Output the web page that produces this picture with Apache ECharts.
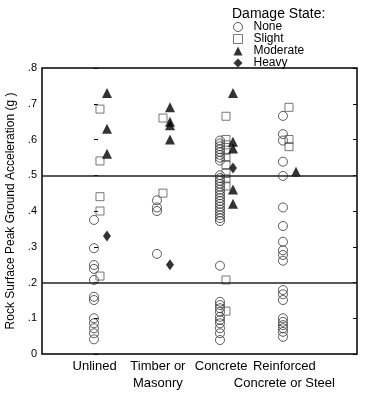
<!DOCTYPE html>
<html>
<head>
<meta charset="utf-8">
<script src="https://cdn.jsdelivr.net/npm/echarts@6/dist/echarts.min.js"></script>
<style>html,body{margin:0;padding:0;background:#fff}#c{width:365px;height:396px}</style>
</head>
<body>
<div id="c"></div>
<script>
const categories = ['Unlined', 'Timber or\nMasonry', 'Concrete', 'Reinforced\nConcrete or Steel'];
const states = ['None', 'Slight', 'Moderate', 'Heavy'];
const yTicks = [0, 0.1, 0.2, 0.3, 0.4, 0.5, 0.6, 0.7, 0.8];
const thresholds = [0.5, 0.2];

// values per category: [Unlined, Timber or Masonry, Concrete, Reinforced]
const noneValues = [
  [0.375, 0.296, 0.249, 0.238, 0.207, 0.160, 0.151, 0.100, 0.086, 0.072, 0.058, 0.041],
  [0.43, 0.41, 0.40, 0.28],
  [0.597, 0.589, 0.581, 0.573, 0.565, 0.557, 0.549, 0.541,
   0.500, 0.492, 0.484, 0.476, 0.468, 0.460, 0.452, 0.444, 0.436, 0.428, 0.420, 0.412, 0.404, 0.396, 0.388, 0.380, 0.372,
   0.247, 0.146, 0.137, 0.128, 0.118, 0.104, 0.095, 0.086, 0.072, 0.058, 0.039],
  [0.666, 0.615, 0.597, 0.538, 0.498, 0.41, 0.358, 0.314, 0.29, 0.277, 0.261, 0.179, 0.167, 0.151, 0.10, 0.09, 0.081, 0.072, 0.062, 0.048]
];
const slightValues = [
  [0.685, 0.54, 0.44, 0.40, 0.218],
  [0.66, 0.45],
  [0.665, 0.60, 0.585, 0.57, 0.55, 0.53, 0.505, 0.49, 0.47, 0.207, 0.12],
  [0.69, 0.60, 0.58]
];
const moderateValues = [
  [0.73, 0.63, 0.56],
  [0.69, 0.65, 0.64, 0.60],
  [0.73, 0.594, 0.575, 0.46, 0.42],
  [0.51]
];
const heavyValues = [
  [0.33],
  [0.25],
  [0.52],
  []
];

function toPoints(groups) {
  const out = [];
  groups.forEach((vals, ci) => vals.forEach(v => out.push([ci, v])));
  return out;
}

const chart = echarts.init(document.getElementById('c'), null, {renderer: 'canvas'});
const font = 'Liberation Sans, Arial, Helvetica, sans-serif';
chart.setOption({
  animation: false,
  textStyle: {fontFamily: font},
  title: {
    text: 'Damage State:', left: 227, top: 2,
    textStyle: {fontSize: 14, fontWeight: 'normal', color: '#000', fontFamily: font}
  },
  legend: {
    orient: 'vertical', left: 228, top: 16,
    itemWidth: 9, itemHeight: 9, itemGap: 0,
    textStyle: {fontSize: 12, lineHeight: 12, color: '#000', fontFamily: font, padding: [0, 0, 0, 6]},
    data: [
      {name: 'None', itemStyle: {borderWidth: 1}},
      {name: 'Slight', itemStyle: {borderWidth: 1}},
      {name: 'Moderate'},
      {name: 'Heavy'}
    ]
  },
  grid: [
    {left: 42, right: 8, top: 68, bottom: 42, show: true, borderColor: '#000', borderWidth: 1.5, backgroundColor: 'transparent', outerBoundsMode: 'none', containLabel: false},
    {left: 63, right: 49, top: 68, bottom: 42, show: false, outerBoundsMode: 'none', containLabel: false}
  ],
  xAxis: [{
    type: 'value', min: -0.825, max: 4.175, gridIndex: 0,
    splitLine: {show: false}, axisLine: {show: false}, axisTick: {show: false},
    axisLabel: {show: false}
  }, {
    type: 'category', data: categories, gridIndex: 1, boundaryGap: true,
    splitLine: {show: false}, axisLine: {show: false}, axisTick: {show: false},
    axisLabel: {interval: 0, color: '#000', fontSize: 13, fontFamily: font, margin: 4, lineHeight: 17}
  }],
  yAxis: [{
    type: 'value', min: 0, max: 0.8, interval: 0.1, position: 'left', gridIndex: 0,
    name: 'Rock Surface Peak Ground Acceleration (g )', nameLocation: 'middle', nameGap: 22,
    nameTextStyle: {fontSize: 12, color: '#000', fontFamily: font},
    splitLine: {show: false}, axisLine: {show: false},
    axisTick: {show: true, inside: true, length: 4, lineStyle: {color: '#000'}},
    axisLabel: {
      color: '#000', fontSize: 11, fontFamily: font, margin: 5,
      formatter: v => { const t = yTicks.find(x => Math.abs(x - v) < 1e-6); return t === 0 ? '0' : (t.toFixed(1)).replace(/^0/, ''); }
    }
  }, {
    type: 'value', min: 0, max: 0.8, interval: 0.1, position: 'right', gridIndex: 0,
    splitLine: {show: false}, axisLine: {show: false},
    axisTick: {show: true, inside: true, length: 4, lineStyle: {color: '#000'}},
    axisLabel: {show: false}
  }, {
    type: 'value', min: 0, max: 0.8, gridIndex: 1, show: false
  }],
  series: [{
    name: 'None', type: 'scatter', data: toPoints(noneValues), xAxisIndex: 0, yAxisIndex: 0,
    symbol: 'circle', symbolSize: 9,
    itemStyle: {color: 'rgba(0,0,0,0)', borderColor: '#333', borderWidth: 1},
    markLine: {
      silent: true, symbol: 'none', label: {show: false},
      lineStyle: {color: '#222', width: 1.5, type: 'solid'},
      data: thresholds.map(t => ({yAxis: t}))
    }
  }, {
    name: 'Slight', type: 'scatter', data: toPoints(slightValues), xAxisIndex: 0, yAxisIndex: 0,
    symbol: 'rect', symbolSize: 8, symbolOffset: [6, 0],
    itemStyle: {color: 'rgba(0,0,0,0)', borderColor: '#555', borderWidth: 1}
  }, {
    name: 'Moderate', type: 'scatter', data: toPoints(moderateValues), xAxisIndex: 0, yAxisIndex: 0,
    symbol: 'triangle', symbolSize: 10, symbolOffset: [13, 0],
    itemStyle: {color: '#000'}
  }, {
    name: 'Heavy', type: 'scatter', data: toPoints(heavyValues), xAxisIndex: 0, yAxisIndex: 0,
    symbol: 'diamond', symbolSize: [8, 11], symbolOffset: [13, 0],
    itemStyle: {color: '#000'}
  }]
});
</script>
</body>
</html>
